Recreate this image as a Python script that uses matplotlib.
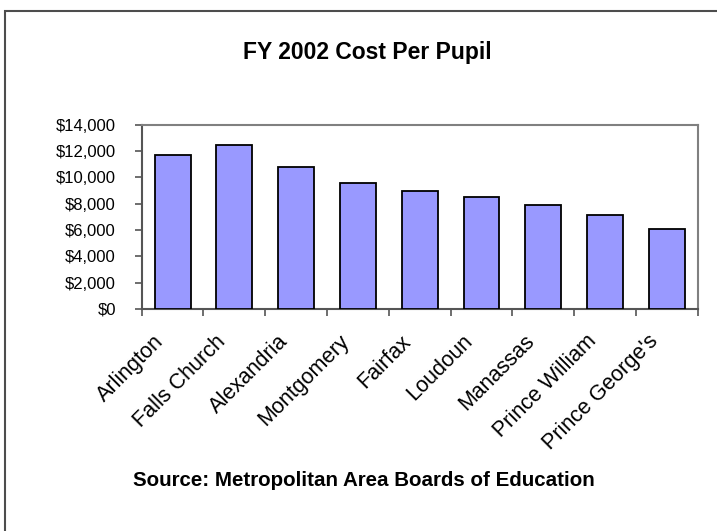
import matplotlib
matplotlib.use("Agg")
import matplotlib.pyplot as plt
from matplotlib.patches import Rectangle
from matplotlib.ticker import FuncFormatter, MultipleLocator
from matplotlib.transforms import ScaledTranslation

plt.rcParams['font.family'] = ['Liberation Sans', 'DejaVu Sans']

jurisdictions = ["Arlington", "Falls Church", "Alexandria", "Montgomery", "Fairfax",
                 "Loudoun", "Manassas", "Prince William", "Prince George's"]
cost_per_pupil = [11720, 12480, 10790, 9600, 8970, 8490, 7900, 7140, 6080]

W, H = 717, 531
fig = plt.figure(figsize=(W / 100, H / 100), dpi=100)
fig.patch.set_facecolor("white")

# chart frame around the figure
fig.patches.append(Rectangle((5 / W, -0.1), 1.2, 1 - 10.7 / H + 0.1,
                             transform=fig.transFigure, fill=False,
                             edgecolor="#4d4d4d", linewidth=1.5, zorder=0))

left, right = 141.7 / W, 697.7 / W
bottom, top = 1 - 309 / H, 1 - 124.7 / H
ax = fig.add_axes([left, bottom, right - left, top - bottom])

x = list(range(len(jurisdictions)))
ax.bar(x, cost_per_pupil, width=0.58, color="#9999FF", edgecolor="black",
       linewidth=1.3, zorder=3)

ax.set_xlim(-0.5, len(jurisdictions) - 0.5)
ax.set_ylim(0, 14000)
ax.yaxis.set_major_locator(MultipleLocator(2000))
ax.yaxis.set_major_formatter(FuncFormatter(lambda v, p: f"${v:,.0f}"))

# category ticks sit between bars
ax.set_xticks([i - 0.5 for i in range(len(jurisdictions) + 1)])
ax.set_xticklabels([])
ax.tick_params(axis="x", length=5, width=1.2, color="#555555", direction="out")
ax.tick_params(axis="y", length=5, width=1.2, color="#555555", labelsize=12,
               pad=13.5)

# slanted category names under each bar
shift = ScaledTranslation(-19 / 100, -22 / 100, fig.dpi_scale_trans)
for xi, name in zip(x, jurisdictions):
    ax.text(xi, 0, name, transform=ax.transData + shift, rotation=45,
            ha="right", va="top", rotation_mode="anchor", fontsize=15.5,
            clip_on=False)

for s in ("top", "right"):
    ax.spines[s].set_color("#808080")
    ax.spines[s].set_linewidth(1.5)
for s in ("left", "bottom"):
    ax.spines[s].set_color("#555555")
    ax.spines[s].set_linewidth(1.5)

fig.text(367 / W, 1 - 53 / H, "FY 2002 Cost Per Pupil", ha="center",
         va="center", fontsize=16.5, fontweight="bold")
fig.text(364 / W, 1 - 481 / H, "Source: Metropolitan Area Boards of Education",
         ha="center", va="center", fontsize=14.8, fontweight="bold")

fig.savefig("out.png", dpi=100, facecolor="white")
